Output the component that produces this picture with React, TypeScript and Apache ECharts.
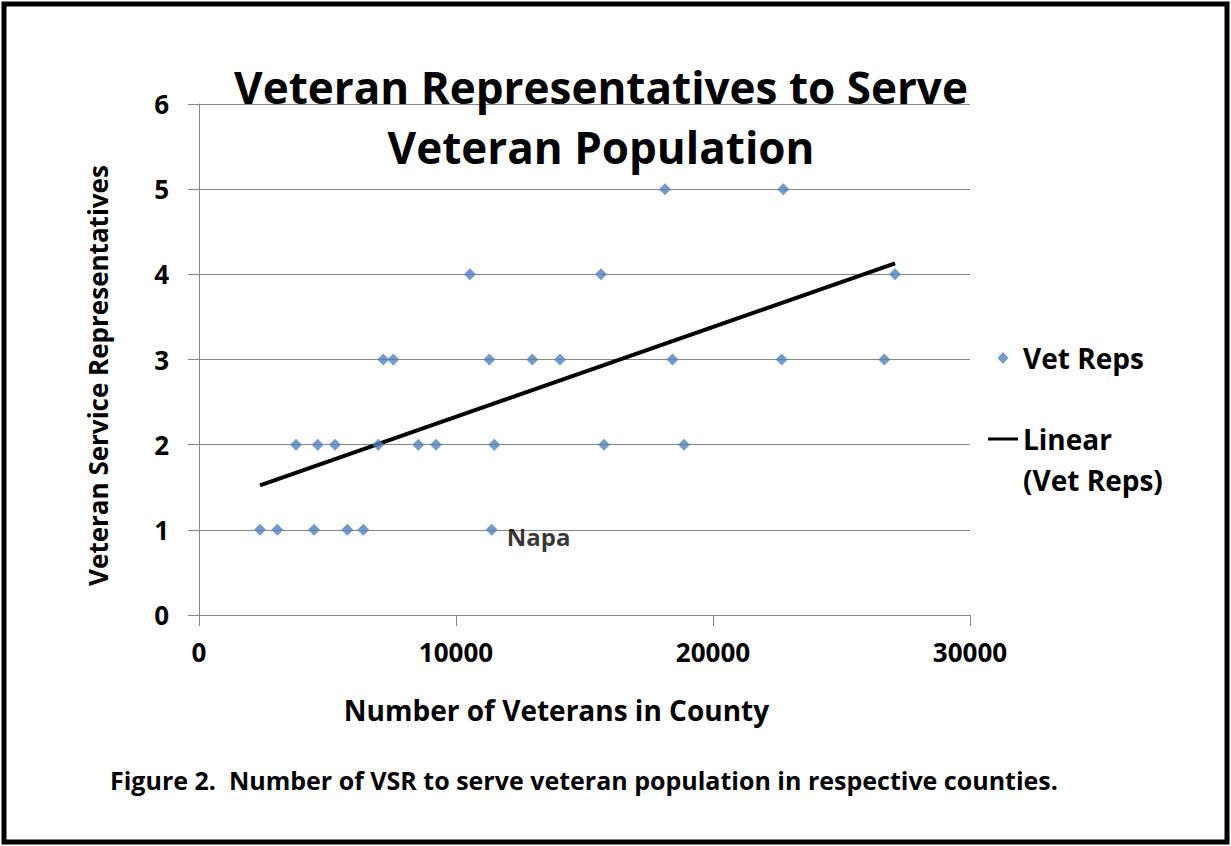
import React, { useEffect, useRef } from "react";
import * as echarts from "echarts";

// Data
const vetX1: number[] = [2374, 3047, 4475, 5770, 6393, 11389];
const vetX2: number[] = [3774, 4619, 5292, 6977, 8533, 9222, 11490, 15759, 18872];
const vetX3: number[] = [7171, 7560, 11296, 12969, 14047, 18424, 22673, 26665];
const vetX4: number[] = [10545, 15642, 27082];
const vetX5: number[] = [18132, 22735];
const napaX = 11389;
const trendX: number[] = [2374, 27082];
const trendY: number[] = [1.523, 4.128];
const xTicks = { min: 0, max: 30000, interval: 10000 };
const yTicks = { min: 0, max: 6, interval: 1 };

const FONT = "'Open Sans', 'Noto Sans', sans-serif";

export default function App() {
  const ref = useRef<HTMLDivElement>(null);
  useEffect(() => {
    if (!ref.current) return;
    const chart = echarts.init(ref.current, undefined, { renderer: "svg" });
    const groups: [number[], number][] = [
      [vetX1, 1],
      [vetX2, 2],
      [vetX3, 3],
      [vetX4, 4],
      [vetX5, 5],
    ];
    const scatterData: any[] = [];
    groups.forEach(([xs, y]) => {
      xs.forEach((x) => {
        if (x === napaX && y === 1) {
          scatterData.push({
            value: [x, y],
            label: {
              show: true,
              formatter: "Napa",
              position: "right",
              offset: [4, 7],
              color: "#000",
              fontFamily: FONT,
              fontWeight: "bold",
              fontSize: 24,
            },
          });
        } else {
          scatterData.push([x, y]);
        }
      });
    });
    const axisGray = "#868686";
    const legendText = { fontFamily: FONT, fontWeight: "bold" as const, fontSize: 28, color: "#000" };
    chart.setOption({
      animation: false,
      backgroundColor: "#fff",
      title: {
        text: "Veteran Representatives to Serve\nVeteran Population",
        left: 596,
        top: 52,
        textAlign: "center",
        textStyle: {
          fontFamily: FONT,
          fontWeight: "bold",
          fontSize: 44,
          lineHeight: 60,
          color: "#000",
        },
      },
      grid: { left: 199, top: 104, width: 771, height: 511 },
      xAxis: {
        type: "value",
        ...xTicks,
        name: "Number of Veterans in County",
        nameLocation: "middle",
        nameGap: 81,
        nameTextStyle: {
          fontFamily: FONT,
          fontWeight: "bold",
          fontSize: 28,
          color: "#000",
          padding: [0, 56, 0, 0],
        },
        axisLine: { show: true, lineStyle: { color: axisGray, width: 1 } },
        axisTick: { show: true, length: 11, lineStyle: { color: axisGray } },
        splitLine: { show: false },
        axisLabel: {
          fontFamily: FONT,
          fontWeight: "bold",
          fontSize: 26,
          color: "#000",
          margin: 24,
          formatter: (v: number) => String(v),
        },
      },
      yAxis: {
        type: "value",
        ...yTicks,
        name: "Veteran Service Representatives",
        nameLocation: "middle",
        nameGap: 88,
        nameTextStyle: {
          fontFamily: FONT,
          fontWeight: "bold",
          fontSize: 26,
          color: "#000",
          padding: [0, 32, 0, 0],
        },
        axisLine: { show: true, lineStyle: { color: axisGray, width: 1 } },
        axisTick: { show: true, length: 11, lineStyle: { color: axisGray } },
        splitLine: { show: true, lineStyle: { color: axisGray, width: 1 } },
        axisLabel: { fontFamily: FONT, fontWeight: "bold", fontSize: 26, color: "#000", margin: 30 },
      },
      legend: {
        orient: "vertical",
        left: 983,
        top: 339,
        itemWidth: 30,
        itemHeight: 12,
        itemGap: 12,
        selectedMode: false,
        textStyle: {
          ...legendText,
          rich: {
            v: { ...legendText, lineHeight: 27 },
            p: { ...legendText, lineHeight: 41 },
            a: { ...legendText, lineHeight: 41 },
          },
        },
        data: [
          { name: "Vet Reps", icon: "path://M0,0M30,12M15,0L20.5,6L15,12L9.5,6Z" },
          { name: "Linear (Vet Reps)", icon: "path://M0,0H30V3H0Z" },
        ],
        formatter: (n: string) =>
          n === "Linear (Vet Reps)" ? "{p| }\n{a|Linear}\n{a|(Vet Reps)}" : "{v|" + n + "}",
      },
      series: [
        {
          name: "Vet Reps",
          type: "scatter",
          symbol: "diamond",
          symbolSize: 12,
          itemStyle: { color: "#4F81BD" },
          data: scatterData,
          z: 3,
        },
        {
          name: "Linear (Vet Reps)",
          type: "line",
          symbol: "none",
          lineStyle: { color: "#000", width: 4 },
          itemStyle: { color: "#000" },
          data: trendX.map((x, i) => [x, trendY[i]]),
          z: 2,
        },
      ],
      graphic: [
        {
          type: "text",
          left: 110,
          top: 767,
          style: {
            text: "Figure 2.  Number of VSR to serve veteran population in respective counties.",
            fill: "#000",
            font: `bold 25px ${FONT}`,
          },
        },
        {
          type: "rect",
          shape: { x: 4, y: 4, width: 1223, height: 838 },
          style: { fill: "none", stroke: "#000", lineWidth: 5 },
          silent: true,
          z: 100,
        },
      ],
    });
    return () => chart.dispose();
  }, []);
  return (
    <div
      ref={ref}
      style={{ position: "fixed", left: 0, top: 0, width: 1231, height: 846 }}
    />
  );
}
